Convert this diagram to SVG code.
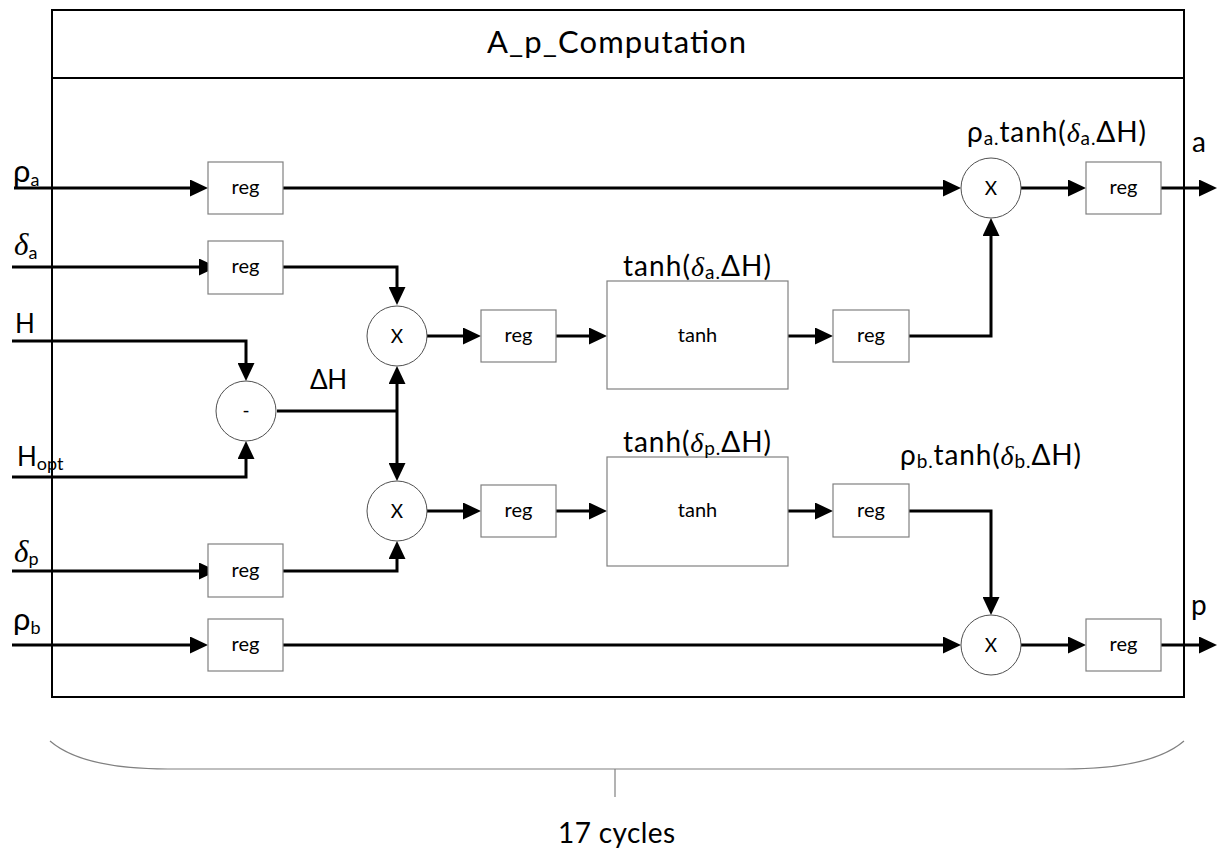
<svg xmlns="http://www.w3.org/2000/svg" width="1219" height="852" viewBox="0 0 1219 852">
<defs>
<marker id="ah" viewBox="0 0 18 17" markerWidth="18" markerHeight="17" refX="0" refY="8.5" orient="auto" markerUnits="userSpaceOnUse">
<path d="M0,0 L18,8.5 L0,17 z" fill="#000"/>
</marker>
<style>
.frame{fill:none;stroke:#000;stroke-width:2}
.reg{fill:#fff;stroke:#808080;stroke-width:1.2}
.op{fill:#fff;stroke:#505050;stroke-width:1}
.w{fill:none;stroke:#000;stroke-width:3}
.a{marker-end:url(#ah)}
text{font-family:Lato,"Open Sans","Liberation Sans",sans-serif;fill:#000}
.t{font-size:20px;text-anchor:middle}
.x{font-size:19px;text-anchor:middle}
.lbl{font-size:26px}
.gk{font-size:31px}
.big{font-size:28px}
.sub{font-size:18px}
.bsub{font-size:19px}
.it{font-family:"Liberation Serif","DejaVu Serif",serif;font-style:italic}
.brace{fill:none;stroke:#808080;stroke-width:1.2}
</style>
</defs>

<g id="frame">
<rect class="frame" x="52" y="10" width="1132" height="687"/>
<line class="frame" x1="52" y1="78" x2="1184" y2="78"/>
<text x="487" y="53" style="font-size:31px" textLength="259" lengthAdjust="spacing">A_p_Computation</text>
</g>

<g id="connectors">
<path class="w a" d="M14,188 H190"/>
<path class="w a" d="M283,188 H943"/>
<path class="w a" d="M1021,188 H1068"/>
<path class="w a" d="M1161,188 H1199"/>
<path class="w a" d="M12,267 H199"/>
<path class="w a" d="M283,267 H397 V287"/>
<path class="w a" d="M12,341 H246 V363"/>
<path class="w a" d="M12,477 H246 V459"/>
<path class="w" d="M277,411 H397"/>
<path class="w a" d="M397,411 V384"/>
<path class="w a" d="M397,411 V463"/>
<path class="w a" d="M427,336 H463"/>
<path class="w a" d="M556,336 H589"/>
<path class="w a" d="M788,336 H815"/>
<path class="w a" d="M909,336 H991 V236"/>
<path class="w a" d="M427,511 H463"/>
<path class="w a" d="M556,511 H589"/>
<path class="w a" d="M788,511 H815"/>
<path class="w a" d="M909,511 H991 V597"/>
<path class="w a" d="M12,571 H199"/>
<path class="w a" d="M283,571 H397 V559"/>
<path class="w a" d="M12,645 H190"/>
<path class="w a" d="M283,645 H943"/>
<path class="w a" d="M1021,645 H1068"/>
<path class="w a" d="M1161,645 H1199"/>
</g>

<g id="reg_rho_a"><rect class="reg" x="208" y="162" width="75" height="52"/><text class="t" x="245.5" y="194">reg</text></g>
<g id="reg_delta_a"><rect class="reg" x="208" y="241" width="75" height="53"/><text class="t" x="245.5" y="273">reg</text></g>
<g id="reg_delta_p"><rect class="reg" x="208" y="544" width="75" height="53"/><text class="t" x="245.5" y="577">reg</text></g>
<g id="reg_rho_b"><rect class="reg" x="208" y="619" width="75" height="52"/><text class="t" x="245.5" y="651">reg</text></g>

<g id="sub_op"><circle class="op" cx="246" cy="411" r="30"/><text class="x" x="246" y="417">-</text></g>
<g id="mul1"><circle class="op" cx="397" cy="336" r="30"/><text class="x" x="397" y="343">X</text></g>
<g id="mul2"><circle class="op" cx="397" cy="511" r="30"/><text class="x" x="397" y="518">X</text></g>

<g id="reg_m1"><rect class="reg" x="481" y="310" width="75" height="52"/><text class="t" x="518.5" y="342">reg</text></g>
<g id="reg_m2"><rect class="reg" x="481" y="485" width="75" height="52"/><text class="t" x="518.5" y="517">reg</text></g>

<g id="tanh1"><rect class="reg" x="607" y="281" width="181" height="108"/><text class="t" x="697.5" y="342">tanh</text></g>
<g id="tanh2"><rect class="reg" x="607" y="457" width="181" height="109"/><text class="t" x="697.5" y="517">tanh</text></g>

<g id="reg_t1"><rect class="reg" x="833" y="310" width="76" height="52"/><text class="t" x="871" y="342">reg</text></g>
<g id="reg_t2"><rect class="reg" x="833" y="484" width="76" height="53"/><text class="t" x="871" y="517">reg</text></g>

<g id="mul3"><circle class="op" cx="991" cy="188" r="30"/><text class="x" x="991" y="195">X</text></g>
<g id="mul4"><circle class="op" cx="991" cy="645" r="30"/><text class="x" x="991" y="652">X</text></g>

<g id="reg_a"><rect class="reg" x="1086" y="162" width="75" height="52"/><text class="t" x="1123.5" y="194">reg</text></g>
<g id="reg_p"><rect class="reg" x="1086" y="619" width="75" height="52"/><text class="t" x="1123.5" y="651">reg</text></g>

<g id="labels">
<text class="gk" x="13" y="182">ρ<tspan class="sub" dy="4">a</tspan></text>
<text class="gk" x="14" y="255"><tspan class="it">δ</tspan><tspan class="sub" dy="4">a</tspan></text>
<text class="lbl" x="15" y="333">H</text>
<text class="lbl" x="17" y="466">H<tspan class="sub" dy="4">opt</tspan></text>
<text class="gk" x="14" y="562"><tspan class="it">δ</tspan><tspan class="sub" dy="3">p</tspan></text>
<text class="gk" x="13" y="630">ρ<tspan class="sub" dy="4">b</tspan></text>
<text class="lbl" x="310" y="389" textLength="37" lengthAdjust="spacing">ΔH</text>
<text class="big" x="623" y="276" textLength="148" lengthAdjust="spacing">tanh(<tspan class="it">δ</tspan><tspan class="bsub" dy="3">a.</tspan><tspan dy="-3">ΔH)</tspan></text>
<text class="big" x="623" y="452" textLength="148" lengthAdjust="spacing">tanh(<tspan class="it">δ</tspan><tspan class="bsub" dy="3">p.</tspan><tspan dy="-3">ΔH)</tspan></text>
<text class="big" x="967" y="142" textLength="179" lengthAdjust="spacing">ρ<tspan class="bsub" dy="3">a.</tspan><tspan dy="-3">tanh(</tspan><tspan class="it">δ</tspan><tspan class="bsub" dy="3">a.</tspan><tspan dy="-3">ΔH)</tspan></text>
<text class="big" x="900" y="465" textLength="181" lengthAdjust="spacing">ρ<tspan class="bsub" dy="3">b.</tspan><tspan dy="-3">tanh(</tspan><tspan class="it">δ</tspan><tspan class="bsub" dy="3">b.</tspan><tspan dy="-3">ΔH)</tspan></text>
<text class="big" x="1192" y="152">a</text>
<text class="big" x="1191" y="615">p</text>
</g>

<g id="cycles">
<path class="brace" d="M50,741 C72,760 112,769 168,769 L1064,769 C1120,769 1162,760 1184,741"/>
<line class="brace" x1="615" y1="769" x2="615" y2="797"/>
<text x="558" y="843" style="font-size:28px" textLength="117" lengthAdjust="spacing">17 cycles</text>
</g>
</svg>
